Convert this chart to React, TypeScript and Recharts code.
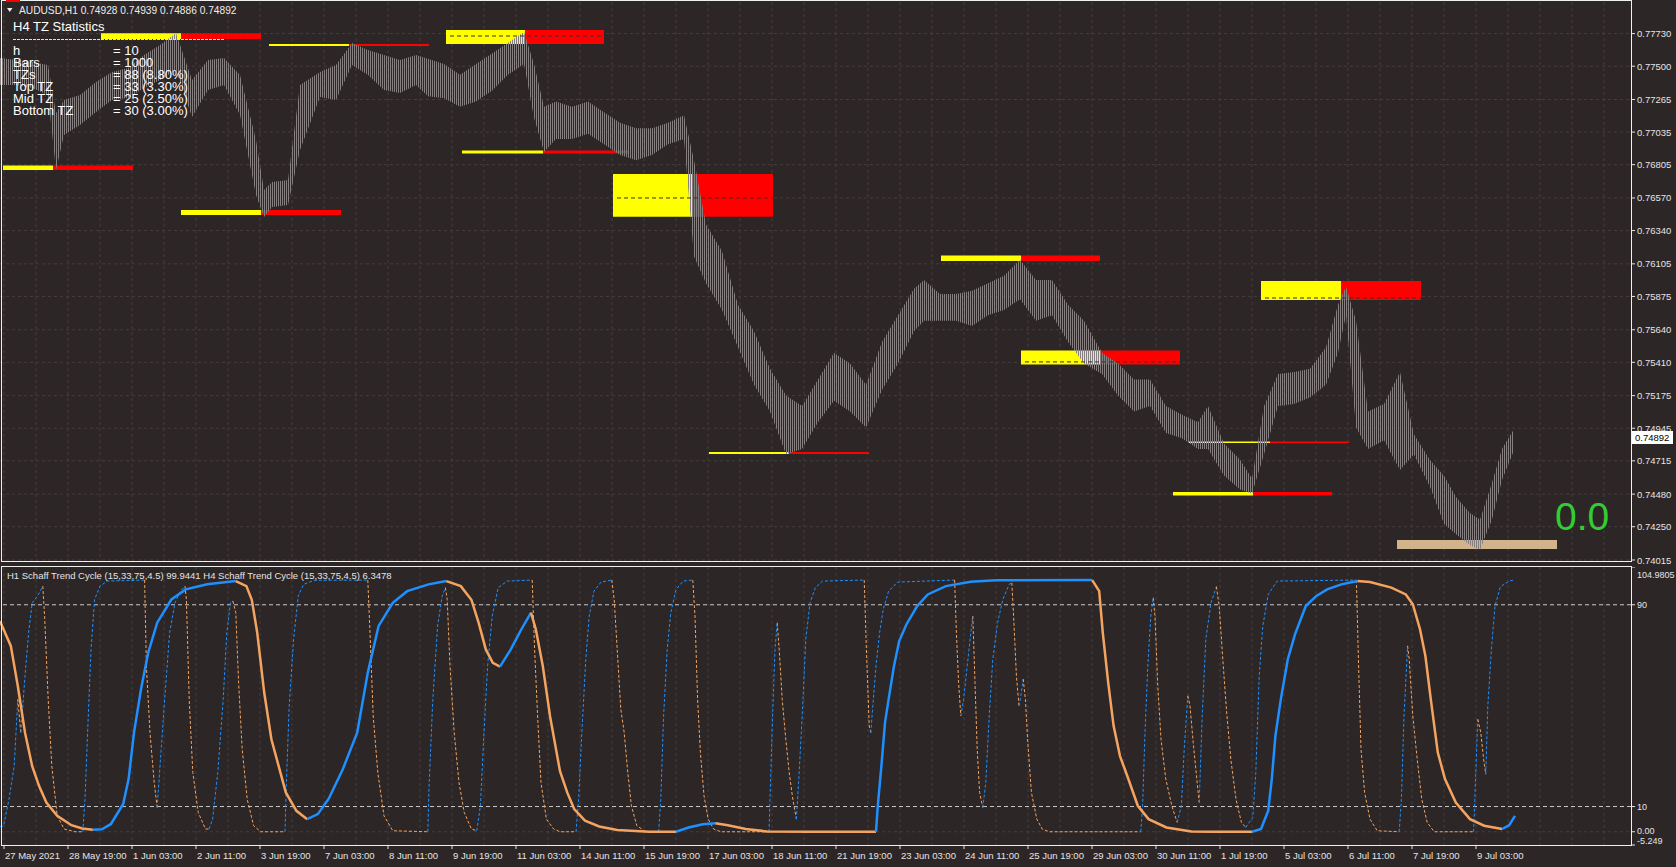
import React from 'react';
import { ComposedChart, Area, Line, XAxis, YAxis, ReferenceArea, ReferenceLine, CartesianGrid } from 'recharts';

const BG = '#2d2626';
const FONT = '"Liberation Sans", Arial, sans-serif';
const BLUE = '#1e90ff';
const ORANGE = '#f4a460';
const GRID = '#463d3d';
const X_MAX = 815.5;
const PRICE_MIN = 0.74008;
const PRICE_MAX = 0.77953;
const STC_MIN = -5.249;
const STC_MAX = 104.9805;

// ---- price axis ticks
const priceTicks = [0.7773, 0.775, 0.77265, 0.77035, 0.76805, 0.7657, 0.7634, 0.76105, 0.75875, 0.7564, 0.7541, 0.75175, 0.74945, 0.74715, 0.7448, 0.7425, 0.74015];
const stcTicks = [104.9805, 90, 10, 0, -5.249];
const stcTickLabels = ['104.9805', '90', '10', '0.00', '-5.249'];

// ---- time labels (bar index of each label = 2 + 32k)
const timeLabels = ['27 May 2021', '28 May 19:00', '1 Jun 03:00', '2 Jun 11:00', '3 Jun 19:00', '7 Jun 03:00', '8 Jun 11:00', '9 Jun 19:00', '11 Jun 03:00', '14 Jun 11:00', '15 Jun 19:00', '17 Jun 03:00', '18 Jun 11:00', '21 Jun 19:00', '23 Jun 03:00', '24 Jun 11:00', '25 Jun 19:00', '29 Jun 03:00', '30 Jun 11:00', '1 Jul 19:00', '5 Jul 03:00', '6 Jul 11:00', '7 Jul 19:00', '9 Jul 03:00'];
const timeTickIdx = timeLabels.map((_, k) => 2 + 32 * k);
const gridIdx = Array.from({ length: 51 }, (_, k) => 2 + 16 * k);

// ---- price bars: [bar index, high, low]
const priceBars: [number, number, number][] = [
  [0, 0.77558, 0.77367], [8, 0.77544, 0.77367], [16, 0.7753, 0.77346], [24, 0.77508, 0.77297], [28, 0.7717, 0.76767],
  [32, 0.77261, 0.77014], [40, 0.77297, 0.77085], [48, 0.77388, 0.77177], [56, 0.77459, 0.77261], [64, 0.77487, 0.77276],
  [72, 0.77579, 0.77346], [80, 0.7765, 0.77403], [88, 0.77734, 0.77473], [96, 0.77403, 0.77141], [104, 0.77544, 0.77332],
  [112, 0.77558, 0.77367], [120, 0.77438, 0.77156], [128, 0.76979, 0.76591], [132, 0.76626, 0.76436], [136, 0.76683, 0.76506],
  [144, 0.76697, 0.7652], [150, 0.77367, 0.76909], [160, 0.77459, 0.77283], [168, 0.77508, 0.77261], [176, 0.77664, 0.77508],
  [184, 0.77614, 0.77438], [192, 0.77579, 0.77332], [200, 0.77544, 0.77311], [208, 0.77579, 0.77367], [214, 0.77552, 0.77288],
  [222, 0.77515, 0.77273], [230, 0.77439, 0.77213], [238, 0.77515, 0.77251], [246, 0.7759, 0.77326], [254, 0.77665, 0.77439],
  [262, 0.77741, 0.77515], [267, 0.77515, 0.77137], [272, 0.77213, 0.76896], [278, 0.77251, 0.76987], [286, 0.77213, 0.76987],
  [294, 0.77251, 0.77024], [302, 0.77175, 0.76949], [310, 0.771, 0.76873], [318, 0.77062, 0.76836], [326, 0.77062, 0.76873],
  [334, 0.771, 0.76949], [342, 0.77153, 0.76987], [347, 0.76836, 0.76157], [353, 0.76383, 0.75968], [361, 0.76194, 0.7578],
  [369, 0.75817, 0.75516], [377, 0.75629, 0.75252], [385, 0.75365, 0.75063], [393, 0.75176, 0.74761], [401, 0.75101, 0.74799],
  [409, 0.75289, 0.74988], [417, 0.75478, 0.75139], [425, 0.75402, 0.75063], [433, 0.75252, 0.7495], [441, 0.75553, 0.75214],
  [449, 0.75742, 0.75402], [457, 0.7593, 0.75629], [462, 0.75991, 0.75704], [470, 0.75893, 0.75704], [478, 0.75893, 0.75704],
  [486, 0.75915, 0.75666], [494, 0.75968, 0.75742], [502, 0.76021, 0.7578], [510, 0.76134, 0.75855], [518, 0.75991, 0.75704],
  [526, 0.75991, 0.75742], [534, 0.75817, 0.75553], [542, 0.75704, 0.75402], [551, 0.75478, 0.75327], [559, 0.75402, 0.75176],
  [567, 0.75289, 0.75063], [575, 0.75289, 0.75101], [583, 0.75101, 0.74912], [591, 0.7504, 0.74874], [599, 0.74988, 0.74799],
  [604, 0.75101, 0.74799], [612, 0.74837, 0.74611], [620, 0.74724, 0.74512], [626, 0.74588, 0.74482], [632, 0.75101, 0.74761],
  [639, 0.75327, 0.75101], [647, 0.75342, 0.75116], [655, 0.75365, 0.75161], [663, 0.75516, 0.75252], [669, 0.75817, 0.75478],
  [673, 0.75945, 0.75742], [678, 0.75704, 0.7495], [684, 0.75063, 0.74799], [692, 0.75116, 0.7486], [700, 0.75342, 0.7465],
  [707, 0.749, 0.7476], [715, 0.7472, 0.7453], [722, 0.7461, 0.74271], [728, 0.7446, 0.74196], [735, 0.74346, 0.7412],
  [740, 0.743, 0.74086], [746, 0.7456, 0.743], [751, 0.748, 0.7458], [757, 0.74939, 0.7479],
];

// ---- TZ zones
const tzStart = [1.5, 50.5, 90.5, 134.5, 223, 231, 306.5, 354.5, 470.5, 510.5, 594.5, 586.5, 630.5];
const tzPivot = [26.5, 90.5, 130.5, 174.5, 262.5, 271.5, 346.5, 394.5, 510.5, 550.5, 635, 626.5, 670.5];
const tzEnd = [66.5, 130.5, 170.5, 214.5, 302, 314, 386.5, 434.5, 550, 590, 674.5, 666, 710.5];
const tzTop = [0.76799, 0.77732, 0.76485, 0.77657, 0.77755, 0.76905, 0.76739, 0.74777, 0.76164, 0.75493, 0.74851, 0.74495, 0.75984];
const tzBottom = [0.76767, 0.77692, 0.7645, 0.77643, 0.77657, 0.76884, 0.76438, 0.74763, 0.76125, 0.75395, 0.7484, 0.7447, 0.7585];
const tzMid: (number | null)[] = [null, null, null, null, 0.77713, null, 0.7657, null, null, 0.75413, null, null, 0.75864];
const targetX = [698.5, 778.5];
const targetY = [0.74156, 0.74093];

// ---- Schaff Trend Cycle: [bar index, value]
const h4Stc: [number, number][] = [
  [0, 83.5], [5.4, 73.7], [8.9, 57.8], [12.5, 39.3], [16.1, 26], [19.6, 18], [23.2, 11.6], [28.6, 6.3], [35.7, 2.6], [41.1, 1.3],
  [46.4, 0.8], [50.9, 1], [55.4, 3], [61.6, 11], [64.3, 20.9], [67, 39.3], [70.5, 56.5], [74.1, 71], [78.6, 82.9], [85.7, 92.1],
  [92.9, 96.1], [103.6, 98.1], [117.9, 99.4], [123.2, 97.4], [125.9, 92], [128.6, 79], [132.1, 55.2], [135.7, 36.7], [139.3, 26.1],
  [142.9, 15.6], [148.2, 8.3], [153.6, 5], [158.9, 7], [164.3, 13], [171.4, 24.8], [178.6, 39.3], [183.9, 63.1], [189.3, 81.6],
  [196.4, 90.8], [203.6, 95.4], [214.3, 98.1], [223.2, 99.4], [230.4, 97.4], [235.7, 92], [239.3, 82.9], [242.9, 72.3], [246.4, 67],
  [250, 65.5], [255.4, 72.3], [260.7, 80.3], [265.5, 86.9], [267.9, 80.3], [271.4, 65.7], [275, 45.9], [280, 24], [283.6, 15.6],
  [287.1, 9], [292.5, 4.4], [299.6, 2.1], [308.6, 0.7], [324.6, 0], [338, 0], [344.3, 1.7], [351.4, 3], [357.7, 3.4], [363.9, 2.6],
  [372.9, 1.1], [383.6, 0.1], [405, 0], [438, 0], [438.9, 10.3], [440.7, 26.1], [442.5, 43.3], [444.3, 52.5], [447, 65.7],
  [449.6, 75.6], [453.2, 82.2], [458.6, 89.5], [463.9, 94.1], [472.9, 97.4], [485.4, 99.1], [497.9, 99.7], [546.1, 99.8],
  [549.6, 95.4], [551.4, 78.9], [554.1, 59.1], [556.8, 42], [560, 30], [563.6, 22.2], [568.9, 10.3], [574.3, 5], [583.2, 1.7],
  [595.7, 0.1], [606.4, 0], [626.1, 0], [630.5, 1.1], [634.1, 8.3], [635.9, 20.9], [637.7, 38], [640.4, 52.5], [643.9, 68.4],
  [647.5, 78.3], [652.9, 89.5], [658.2, 93.5], [663.6, 96.1], [670.7, 98.1], [678.8, 99.4], [685, 99], [695.7, 96.8], [702.9, 94.1],
  [706.4, 90.2], [710, 80.3], [712.7, 69.7], [715.4, 52.5], [718.9, 31.4], [722.5, 20.9], [727.9, 11.6], [735, 5], [742.1, 2.4],
  [751.1, 1.1], [754.6, 2.6], [757.5, 6.3],
];

const h1Stc: [number, number][] = [
  [0, 2], [1.8, 2.4], [4.5, 12.9], [7.1, 26.1], [8.9, 52.5], [10.4, 39.3], [12.5, 61.8], [14.3, 78.9], [16.1, 90.8], [18.8, 93.5],
  [21.4, 97.4], [22.3, 85.5], [24.1, 52.5], [25.9, 26.1], [28.6, 6.3], [32.1, 1.1], [37.5, 0], [41.4, 0], [42.5, 12.9], [43.8, 39.3],
  [45.5, 72.3], [47.3, 92.1], [50, 97.4], [53.6, 99.4], [72.3, 99.8], [73.2, 65.7], [75, 39.3], [77.1, 19.5], [78.6, 9.6], [80, 26.1],
  [82.1, 49.9], [84.8, 78.9], [87.5, 90.8], [90.2, 95.4], [92.5, 97.4], [93.2, 92.1], [94.6, 52.5], [96.4, 23.5], [99.1, 7.7],
  [102.7, 1.1], [104.5, 1.1], [106.3, 5], [108.9, 23.5], [111.6, 52.5], [113.4, 78.9], [115.2, 90.8], [116.4, 91.5], [117.9, 86.9],
  [119.3, 59.1], [121.1, 32.7], [123.6, 12.9], [126.8, 2.4], [130.4, 0], [142.5, 0], [143.2, 19.5], [144.6, 49.9], [146.8, 76.3],
  [149.1, 93.5], [151.8, 98.1], [157.1, 99.7], [183.9, 99.8], [185, 78.9], [186.6, 45.9], [188.9, 23.5], [192, 6.3], [196.4, 0.4],
  [213.9, 0], [214.6, 19.5], [216.4, 52.5], [218.8, 81.6], [221.1, 93.5], [222.7, 96.8], [223.6, 92.1], [225, 65.7], [227.1, 39.3],
  [229.5, 19.5], [232.1, 7.7], [235.7, 1.1], [238.4, 0.4], [240.2, 10.3], [242, 39.3], [243.8, 65.7], [246.1, 85.5], [249.1, 96.8],
  [253.6, 99.4], [266.1, 99.8], [267.3, 72.3], [268.8, 45.9], [270.5, 19.5], [273.2, 5], [276.8, 1.1], [280, 0], [288, 0],
  [289.3, 12.9], [291.1, 42], [292.9, 68.4], [294.6, 85.5], [297, 95.4], [300.5, 99], [305.9, 99.8], [307.1, 92.1], [308.6, 72.3],
  [310.4, 48.6], [312.1, 39.3], [313.9, 23.5], [315.7, 10.3], [318.4, 2.4], [322.9, 0], [329.3, 0], [330.4, 12.9], [331.8, 45.9],
  [333.6, 72.3], [335.4, 86.9], [338, 96.1], [341.6, 99.4], [346.4, 99.8], [347.5, 85.5], [348.8, 52.5], [350.2, 31.4], [352, 14.3],
  [354.1, 5], [356.8, 1.1], [360.4, 0], [384.5, 0], [385, 12.9], [386.3, 45.9], [387.5, 72.3], [388.6, 82.9], [389.6, 72.3],
  [391.1, 52.5], [392.9, 36.7], [394.6, 23.5], [396.4, 12.9], [398.2, 5], [399.3, 19.5], [401.1, 45.9], [402.9, 76.3], [405, 90.8],
  [407.7, 96.8], [411.3, 99.4], [432.1, 99.8], [433.2, 72.3], [434.6, 42], [435.4, 39.3], [436.4, 49.9], [438, 65.7], [439.8, 78.9],
  [441.6, 88.2], [444.3, 95.4], [448.8, 99], [477.3, 99.8], [478.2, 78.9], [479.3, 59.1], [480.4, 45.9], [481.8, 52.5], [483.6, 65.7],
  [485.4, 78.9], [486.4, 85.5], [487.5, 59.1], [488.6, 32.7], [489.8, 15.6], [491.4, 9.6], [492.9, 19.5], [494.6, 45.9], [496.4, 68.4],
  [498.8, 82.9], [501.4, 92.1], [504.6, 98.1], [505.9, 98.7], [506.8, 85.5], [508.2, 61.8], [509.5, 49.9], [510.4, 53.9], [511.6, 60.5],
  [512.7, 52.5], [513.9, 35.4], [515.7, 15.6], [518.4, 5], [521.1, 1.1], [524.6, 0], [570.4, 0], [571.3, 10.3], [572.5, 39.3],
  [573.9, 65.7], [575.4, 85.5], [576.6, 92.8], [577.5, 85.5], [578.8, 59.1], [580.5, 36.7], [582.9, 20.9], [585.9, 10.3], [588.6, 3.7],
  [590.7, 10.3], [592.1, 32.7], [593.9, 53.9], [595, 49.9], [596.6, 35.4], [598.4, 20.9], [599.6, 11.6], [601.1, 45.9], [602.9, 76.3],
  [605.5, 90.8], [608.2, 97.2], [609.6, 89.5], [611.4, 68.4], [613.2, 48.6], [615.4, 28.8], [618, 12.9], [620.7, 3.7], [622.9, 1.7],
  [624.6, 3.7], [626.4, 5.7], [627.9, 23.5], [629.6, 61.8], [631.4, 81.6], [634.1, 94.1], [638.6, 99.4], [678.2, 99.8], [679.3, 65.7],
  [680.5, 32.7], [682.3, 15.6], [685, 5], [688.6, 0.4], [699.6, 0], [700.7, 12.9], [702, 45.9], [703.8, 73.7], [704.6, 68.4],
  [706.4, 45.9], [708.6, 28.8], [710.9, 12.9], [713.6, 3.7], [717.1, 0], [736.8, 0], [737.7, 19.5], [738.9, 44.6], [740.4, 39.3],
  [741.8, 28.8], [742.9, 22.8], [743.9, 49.9], [745.7, 72.3], [747.5, 89.5], [750.2, 97.2], [754.6, 99.4], [757.5, 99.9],
];

const statLabels = ['h', 'Bars', 'TZs', 'Top TZ', 'Mid TZ', 'Bottom TZ'];
const statValues = ['= 10', '= 1000', '= 88 (8.80%)', '= 33 (3.30%)', '= 25 (2.50%)', '= 30 (3.00%)'];

type Run = { color: string; data: { i: number; v: number }[] };
function buildRuns(pts: [number, number][]): Run[] {
  const runs: Run[] = [];
  let prev = BLUE;
  for (let k = 0; k < pts.length - 1; k++) {
    const [i0, v0] = pts[k];
    const [i1, v1] = pts[k + 1];
    const c = v1 > v0 ? BLUE : v1 < v0 ? ORANGE : prev;
    prev = c;
    const last = runs[runs.length - 1];
    if (last && last.color === c) last.data.push({ i: i1, v: v1 });
    else runs.push({ color: c, data: [{ i: i0, v: v0 }, { i: i1, v: v1 }] });
  }
  return runs;
}

const priceData = priceBars.map(([i, hi, lo]) => ({ i, r: [lo, hi] }));
const h4Runs = buildRuns(h4Stc);
const h1Runs = buildRuns(h1Stc);

const PriceTick = (props: any) => {
  const { y, payload } = props;
  return (
    <text x={1637} y={y} dy={3.5} fill="#e4e4e4" fontSize={9.5} fontFamily={FONT} textAnchor="start">
      {payload.value.toFixed(5)}
    </text>
  );
};

const StcTick = (props: any) => {
  const { y, payload } = props;
  const k = stcTicks.indexOf(payload.value);
  const off = k === 0 ? 7 : k === 4 ? -5 : k === 3 ? -1.5 : 0;
  return (
    <text x={1637} y={y + off} dy={3.5} fill="#e4e4e4" fontSize={9} fontFamily={FONT} textAnchor="start">
      {stcTickLabels[k]}
    </text>
  );
};

const TimeTick = (props: any) => {
  const { x, payload } = props;
  const k = timeTickIdx.indexOf(payload.value);
  return (
    <text x={x + 1} y={292} fill="#e4e4e4" fontSize={9.5} fontFamily={FONT} textAnchor="start">
      {timeLabels[k]}
    </text>
  );
};

export default function App() {
  return (
    <div style={{ position: 'relative', width: 1676, height: 867, background: BG, overflow: 'hidden' }}>
      <style>{`body{margin:0;background:${BG};}`}</style>
      <div style={{ position: 'absolute', left: 0, top: 0 }}>
        <ComposedChart width={1676} height={567} margin={{ top: 2, right: 0, bottom: 6, left: 0 }}>
          <defs>
            <pattern id="barTex" x="0" y="0" width="2" height="4" patternUnits="userSpaceOnUse">
              <rect x="0" y="0" width="1" height="4" fill="#868080" />
            </pattern>
          </defs>
          <XAxis type="number" dataKey="i" domain={[0, X_MAX]} allowDataOverflow hide />
          <YAxis
            type="number"
            orientation="right"
            width={45}
            domain={[PRICE_MIN, PRICE_MAX]}
            allowDataOverflow
            ticks={priceTicks}
            interval={0}
            axisLine={false}
            tickLine={{ stroke: '#e4e4e4' }}
            tickSize={4}
            tick={<PriceTick />}
          />
          <CartesianGrid
            horizontalValues={priceTicks}
            verticalValues={gridIdx}
            stroke={GRID}
            strokeDasharray="3 3"
          />
          {tzStart.map((s, k) => (
            <ReferenceArea key={'ty' + k} x1={s} x2={tzPivot[k]} y1={tzBottom[k]} y2={tzTop[k]} fill="#ffff00" fillOpacity={1} stroke="none" />
          ))}
          {tzStart.map((s, k) => (
            <ReferenceArea key={'tr' + k} x1={tzPivot[k]} x2={tzEnd[k]} y1={tzBottom[k]} y2={tzTop[k]} fill="#ff0000" fillOpacity={1} stroke="none" />
          ))}
          {tzMid.map((m, k) =>
            m === null ? null : (
              <ReferenceLine
                key={'tm' + k}
                segment={[{ x: tzStart[k] + 2, y: m }, { x: tzEnd[k], y: m }]}
                stroke="#3a3030"
                strokeDasharray="4 3"
              />
            )
          )}
          <ReferenceArea x1={targetX[0]} x2={targetX[1]} y1={targetY[1]} y2={targetY[0]} fill="#d2b48c" fillOpacity={1} stroke="none" />
          <Area
            data={priceData}
            dataKey="r"
            type="linear"
            stroke="none"
            fill="url(#barTex)"
            fillOpacity={1}
            isAnimationActive={false}
            dot={false}
            activeDot={false}
          />
        </ComposedChart>
      </div>
      <div style={{ position: 'absolute', left: 0, top: 567 }}>
        <ComposedChart width={1676} height={300} margin={{ top: 0, right: 0, bottom: 0, left: 0 }}>
          <XAxis
            type="number"
            dataKey="i"
            domain={[0, X_MAX]}
            allowDataOverflow
            ticks={timeTickIdx}
            interval={0}
            height={22}
            axisLine={false}
            tickLine={{ stroke: '#e4e4e4' }}
            tickSize={4}
            tick={<TimeTick />}
          />
          <YAxis
            type="number"
            orientation="right"
            width={45}
            domain={[STC_MIN, STC_MAX]}
            allowDataOverflow
            ticks={stcTicks}
            interval={0}
            axisLine={false}
            tickLine={{ stroke: '#e4e4e4' }}
            tickSize={4}
            tick={<StcTick />}
          />
          <CartesianGrid horizontalValues={[0]} verticalValues={gridIdx} stroke={GRID} strokeDasharray="3 3" />
          <ReferenceLine y={90} stroke="#c8c8c8" strokeDasharray="4 3" />
          <ReferenceLine y={10} stroke="#c8c8c8" strokeDasharray="4 3" />
          {h1Runs.map((r, k) => (
            <Line
              key={'h1' + k}
              data={r.data}
              dataKey="v"
              type="linear"
              stroke={r.color}
              strokeWidth={1}
              strokeDasharray="3 2"
              dot={false}
              activeDot={false}
              isAnimationActive={false}
            />
          ))}
          {h4Runs.map((r, k) => (
            <Line
              key={'h4' + k}
              data={r.data}
              dataKey="v"
              type="linear"
              stroke={r.color}
              strokeWidth={2.5}
              dot={false}
              activeDot={false}
              isAnimationActive={false}
            />
          ))}
        </ComposedChart>
      </div>
      <svg width={1676} height={867} style={{ position: 'absolute', left: 0, top: 0, pointerEvents: 'none' }}>
        <rect x={1.5} y={0.5} width={1630} height={561} fill="none" stroke="#f0f0f0" strokeWidth={1} />
        <rect x={1.5} y={566.5} width={1630} height={279} fill="none" stroke="#f0f0f0" strokeWidth={1} />
        <rect x={6} y={0} width={14} height={2} fill="#ff0000" />
        <polygon points="7,8 12.5,8 9.75,12" fill="#f0f0f0" />
        <text x={19} y={14} fill="#ececec" fontSize={10.2} fontFamily={FONT}>
          {'AUDUSD,H1  0.74928 0.74939 0.74886 0.74892'}
        </text>
        <text x={13} y={31} fill="#ffffff" fontSize={13} fontFamily={FONT}>H4 TZ Statistics</text>
        <line x1={13} y1={39.5} x2={225} y2={39.5} stroke="#e0e0e0" strokeDasharray="3 1" />
        {statLabels.map((s, k) => (
          <text key={'sl' + k} x={13} y={55 + 12 * k} fill="#ffffff" fontSize={13} fontFamily={FONT}>{s}</text>
        ))}
        {statValues.map((s, k) => (
          <text key={'sv' + k} x={113} y={55 + 12 * k} fill="#ffffff" fontSize={13} fontFamily={FONT}>{s}</text>
        ))}
        <text x={1555} y={530} fill="#32cd32" fontSize={39} fontFamily={FONT}>0.0</text>
        <rect x={1632} y={431} width={41} height={13} fill="#ffffff" />
        <text x={1635} y={441} fill="#000000" fontSize={9.5} fontFamily={FONT}>0.74892</text>
        <text x={7} y={579} fill="#e4e4e4" fontSize={9.5} fontFamily={FONT}>
          {'H1 Schaff Trend Cycle (15,33,75,4.5) 99.9441  H4 Schaff Trend Cycle (15,33,75,4.5) 6.3478'}
        </text>
      </svg>
    </div>
  );
}
